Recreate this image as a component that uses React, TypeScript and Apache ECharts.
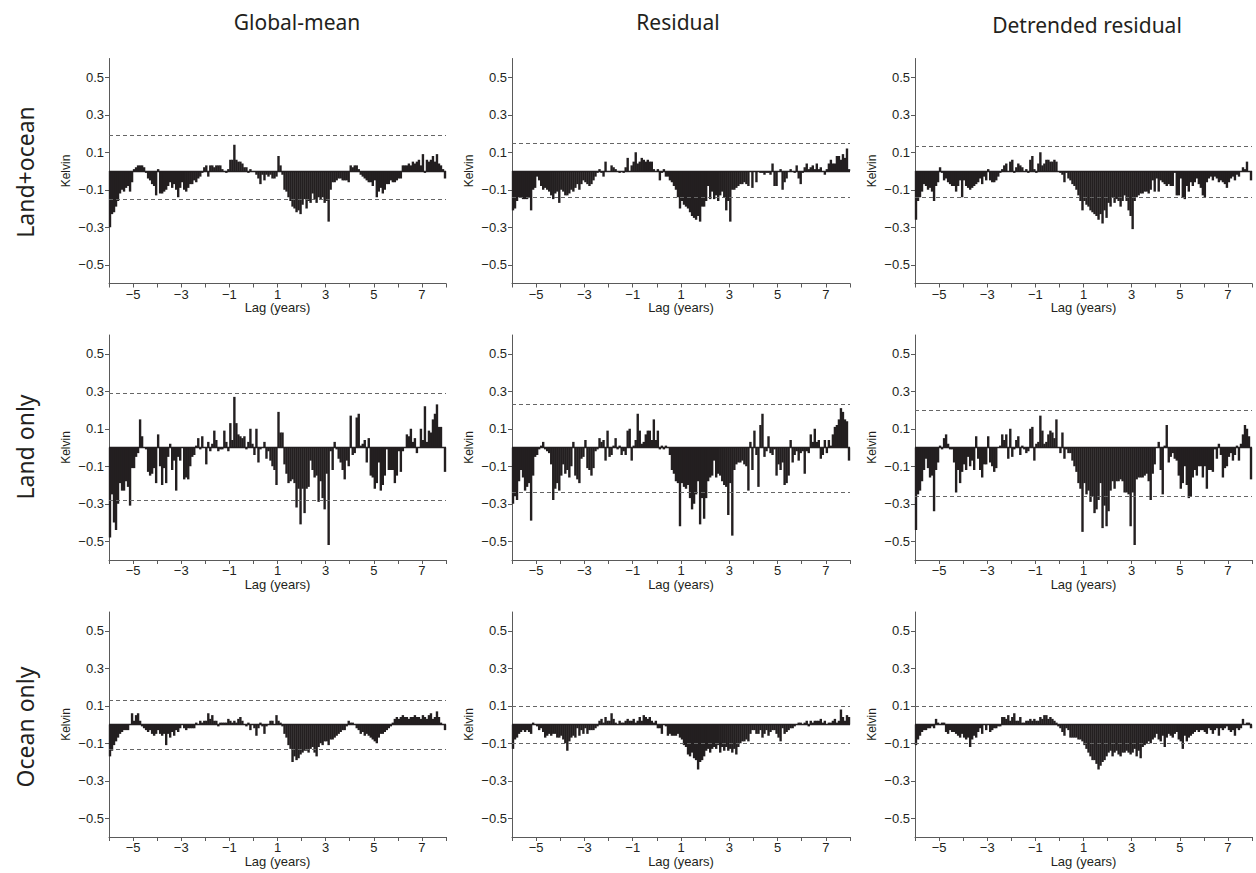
import React, { useEffect, useRef } from "react";
import * as echarts from "echarts";

// ---- labels ----
const COLUMN_TITLES = ["Global-mean", "Residual", "Detrended residual"];
const ROW_TITLES = ["Land+ocean", "Land only", "Ocean only"];
const X_TICKS = [-6, -5, -4, -3, -2, -1, 0, 1, 2, 3, 4, 5, 6, 7, 8];
const X_LABELS = [-5, -3, -1, 1, 3, 5, 7];
const Y_LABELS = [-0.5, -0.3, -0.1, 0.1, 0.3, 0.5];
const LAG_START = -6;
const MONTHS_PER_YEAR = 12;

// ---- monthly regression values, hundredths of kelvin, lag -6 .. +8 years ----
const landOceanGlobal = [
  -30, -23, -22, -19, -16, -12, -10, -11, -9, -8, -11, -6,
  1, 2, 3, 3, 3, 2, -1, -4, -5, -7, -8, -13,
  1, -12, -12, -11, -10, -8, -6, -9, -7, -10, -14, -9,
  -6, -10, -11, -9, -7, -7, -5, -6, -4, -3, -1, 2,
  3, -3, 3, 3, 2, 3, 3, 3, 1, 0, -1, 1,
  6, 6, 14, 6, 5, 5, 4, 2, 2, -1, 1, 0,
  0, -2, -4, -7, -2, -5, -2, -3, -2, -4, -4, -3,
  8, 3, -2, -10, -11, -14, -16, -19, -20, -22, -21, -23,
  -18, -15, -20, -16, -17, -12, -15, -17, -14, -15, -14, -17,
  -16, -27, -10, -6, -6, -5, -4, -4, -5, -5, -5, -6,
  3, 2, 3, 3, 1, -2, -3, -4, -5, -6, -6, -8,
  -5, -14, -11, -9, -12, -10, -7, -7, -5, -6, -6, -5,
  -4, -4, 3, 3, 3, 4, 3, 5, 4, 5, 6, 3,
  9, -1, 6, 5, 6, 8, 5, 9, 4, 3, 1, -4,
];
const landOceanResidual = [
  -21, -20, -16, -14, -14, -15, -15, -15, -14, -21, -10, -9,
  -3, -5, -8, -10, -9, -10, -11, -13, -15, -12, -11, -17,
  -10, -11, -13, -13, -12, -10, -11, -9, -7, -10, -7, -5,
  -6, -7, -8, -7, -5, -3, -1, 1, -1, -3, 5, 0,
  0, 3, 2, 1, 0, -1, 0, -1, 2, 7, 0, 3,
  5, 10, 4, 5, 7, 6, 5, 6, 5, 5, 1, 0,
  1, -5, -1, 1, -3, -3, -5, -6, -8, -10, -14, -20,
  -16, -18, -19, -20, -22, -24, -25, -26, -24, -27, -19, -19,
  -16, -8, -15, -11, -15, -13, -16, -13, -11, -14, -21, -16,
  -27, -10, -10, -9, -8, -7, -7, -6, -7, -8, 0, -9,
  0, -6, 0, -1, -1, -2, -1, -1, -2, 4, -8, -8,
  0, 1, -10, -6, -4, 0, 1, 0, -1, 3, -4, -7,
  -1, 2, 4, 1, 2, 3, 1, 4, 1, 2, 0, -2,
  1, 4, 6, 4, 4, 8, 8, 6, 9, 7, 12, 1,
];
const landOceanDetrended = [
  -26, -16, -14, -11, -7, -8, -10, -9, -11, -16, -8, -6,
  2, -1, -5, -4, -6, -7, -8, -8, -11, -8, -5, -14,
  -5, -8, -9, -10, -9, -8, -7, -6, -4, -7, -3, -5,
  1, -5, -6, -6, -5, -3, -1, 1, 3, 4, 0, 5,
  6, -1, 2, 4, 3, 2, 0, 1, -1, 6, 8, 1,
  -1, 4, 10, 3, 4, 6, 6, 5, 5, 6, 5, 0,
  -1, -2, -6, -1, -4, -5, -7, -8, -10, -13, -16, -21,
  -16, -18, -19, -21, -22, -23, -24, -26, -23, -28, -21, -25,
  -17, -19, -14, -17, -15, -16, -19, -16, -13, -16, -21, -24,
  -31, -16, -14, -13, -12, -12, -11, -11, -12, -10, -5, -11,
  -4, -11, -5, -6, -7, -8, -7, -8, -8, -1, -13, -13,
  -4, -14, -15, -8, -11, -6, -8, -6, -4, -7, -9, -13,
  -14, -6, -4, -3, -5, -3, -4, -6, -5, -6, -7, -9,
  -6, -4, -3, -5, -2, -3, 0, 2, 1, 5, 0, -5,
];
const landGlobal = [
  -48, -25, -40, -44, -30, -19, -23, -23, -18, -21, -31, -11,
  -11, -5, -3, 15, 6, 0, -1, -13, -15, -14, -11, -19,
  7, -10, -20, -11, -19, -5, 2, -12, -7, -23, -5, -7,
  0, -17, -16, -17, -10, -5, -4, 1, 5, -1, 6, 0,
  -9, 3, -2, 2, 9, 4, -2, -1, -1, 9, 3, -2,
  13, 4, 27, 13, 7, 6, 5, 6, -1, 3, 10, 2,
  -4, 10, -8, -1, 0, 3, -6, -2, -7, -10, -12, -20,
  19, 8, 8, -9, -14, -19, -18, -17, -19, -32, -22, -41,
  -22, -35, -22, -21, -7, -12, -16, -15, -29, -18, -27, -33,
  -14, -52, -2, -12, 3, -1, -6, -8, -12, -17, -7, -10,
  17, -4, -3, 16, 18, 1, 2, 4, -8, 5, -15, -16,
  -22, -19, -8, -23, -20, -15, -1, -12, -12, -12, -19, -15,
  -2, -13, -2, 0, 7, 6, 10, 3, 5, -3, 0, 10,
  4, 22, 3, 9, 8, 15, 18, 23, 11, 11, 0, -13,
];
const landResidual = [
  -30, -26, -28, -18, -12, -16, -23, -21, -19, -39, -15, -5,
  -4, -1, 1, 3, -1, -2, -3, -9, -28, -22, -19, -23,
  -15, -9, -14, -12, -16, -10, 3, -15, -17, -19, -6, -5,
  4, -11, -12, -15, -11, -2, -1, 5, 3, 4, -7, 9,
  -5, -4, 1, 5, -1, 1, -4, -2, -4, 9, 10, -7,
  1, 4, 18, 9, 2, 3, 7, 9, 9, 4, 15, 4,
  9, -1, 1, -1, 1, 0, -4, -12, -14, -18, -19, -42,
  -19, -21, -22, -20, -27, -33, -30, -25, -18, -41, -27, -38,
  -27, -18, -16, -15, -7, -16, -14, -15, -18, -20, -21, -36,
  -19, -47, -12, -9, -8, -8, -7, -9, -10, -23, 3, -12,
  9, -4, -21, 12, 18, -5, -2, 6, -3, -4, -1, -15,
  -9, -12, -8, -20, -19, -15, 4, -8, -4, -2, -7, -3,
  -2, -14, -2, -3, 7, 3, 10, 3, 4, -6, -4, 4,
  -3, 4, 1, 7, 11, 12, 15, 21, 19, 15, 14, -7,
];
const landDetrended = [
  -44, -25, -23, -18, -12, -6, -11, -16, -15, -34, -12, -8,
  1, -1, 5, 7, 2, -1, -1, -8, -24, -12, -19, -13,
  -9, -12, -5, -10, -7, -12, 6, -6, -12, -16, -9, -9,
  6, -8, -10, -13, -11, 0, 1, 7, 4, 7, -6, 10,
  -5, -1, 4, 6, -4, 1, -1, -3, -2, 10, 11, -7,
  2, 3, 17, 9, 2, 3, 7, 9, 8, 5, 15, 0,
  -3, 8, -6, -1, -3, -3, -7, -10, -13, -19, -22, -45,
  -19, -25, -23, -29, -26, -35, -33, -28, -19, -43, -31, -42,
  -34, -23, -18, -22, -18, -18, -17, -18, -24, -24, -25, -42,
  -24, -52, -17, -16, -16, -16, -15, -14, -18, -28, -14, -9,
  0, 3, -12, -25, 1, 12, -8, -5, -3, -6, -7, -15,
  -22, -19, -10, -20, -27, -26, -16, -12, -15, -10, -10, -16,
  -10, -22, -12, -12, -13, -1, -6, 2, -4, -16, -11, -10,
  -5, -3, -7, -4, 1, -7, 2, 7, 12, 10, 6, -17,
];
const oceanGlobal = [
  -17, -14, -11, -9, -7, -5, -4, -3, -3, -3, 0, 6,
  2, 5, 6, 2, -1, -2, -3, -4, -3, -5, -6, -5,
  -3, -5, -6, -5, -11, -5, -7, -4, -6, -3, -4, -2,
  0, -2, -3, -2, -2, -2, -2, 1, 0, 2, 1, 2,
  2, 6, 3, 5, 2, 2, -1, 1, 1, 1, 1, 3,
  2, 1, 2, 1, 3, 4, 2, 0, -1, 1, -3, 0,
  -2, -6, -2, 1, -1, -5, -1, 0, 2, 2, 0, 5,
  2, 1, -1, -5, -7, -11, -13, -20, -17, -19, -18, -16,
  -15, -14, -14, -15, -13, -12, -15, -17, -12, -10, -11, -9,
  -9, -11, -8, -8, -7, -6, -5, -4, -3, -3, -1, 2,
  1, 1, 0, -2, -3, -5, -4, -6, -5, -6, -7, -8,
  -9, -10, -7, -5, -5, -4, -3, -2, -1, 1, 3, 4,
  3, 4, 5, 4, 4, 3, 4, 4, 5, 4, 4, 3,
  5, 4, 3, 5, 6, 3, 4, 7, 4, 1, 0, -3,
];
const oceanResidual = [
  -13, -8, -7, -5, -4, -3, -4, -3, -4, -5, 1, 0,
  -1, -3, -2, -4, -7, -6, -5, -6, -5, -5, -7, -7,
  -6, -8, -10, -14, -9, -7, -6, -7, -2, -6, -3, -5,
  -2, -5, -3, -3, -3, -2, -1, 2, 3, 1, 4, 2,
  2, 6, 3, 1, 0, 2, 1, 1, 2, 3, 2, 2,
  3, 1, 2, 4, 2, 5, 4, 3, 4, 2, 1, 2,
  -2, -2, -5, 0, -1, -6, -5, -6, -6, -6, -5, -7,
  -8, -11, -12, -16, -17, -15, -18, -19, -24, -20, -19, -17,
  -14, -13, -15, -13, -12, -13, -11, -15, -12, -14, -12, -14,
  -13, -15, -13, -16, -12, -10, -9, -9, -8, -9, -5, -3,
  -3, -5, -5, -3, -7, -5, -3, -6, -4, -3, -3, -5,
  -7, -9, -2, -5, -4, -3, -2, -2, -1, 0, 1, 1,
  0, 1, 2, -1, 2, 1, 2, 2, 2, 3, 1, 2,
  0, 1, 1, 2, 3, 1, 2, 8, 4, 2, 5, 4,
];
const oceanDetrended = [
  -11, -8, -6, -4, -3, -3, -2, -2, -1, -2, 3, 1,
  0, 1, 1, -4, -5, -3, -4, -4, -5, -6, -7, -5,
  -7, -8, -7, -12, -8, -6, -7, -4, -2, -5, 0, -3,
  0, -4, -3, -2, -2, -1, -1, 4, 4, 3, 5, 2,
  4, 6, 2, 2, 4, 1, 1, 2, 2, 3, 2, 3,
  2, 2, 4, 3, 5, 5, 3, 4, 3, 2, 1, -1,
  -2, -4, -6, -2, -3, -7, -7, -7, -7, -8, -8, -9,
  -11, -13, -15, -17, -19, -19, -21, -24, -22, -20, -19, -17,
  -15, -14, -17, -15, -14, -16, -17, -15, -15, -14, -15, -16,
  -15, -13, -17, -14, -18, -12, -11, -10, -9, -10, -8, -7,
  -5, -8, -9, -6, -12, -7, -5, -6, -7, -5, -4, -8,
  -9, -13, -6, -9, -7, -6, -5, -4, -3, -4, -3, -3,
  -4, -5, -2, -3, -5, -3, -2, -6, -2, -3, -2, -1,
  -3, -4, -3, -6, -2, -3, -2, 3, 0, 1, 1, -2,
];

// significance thresholds (hundredths of kelvin), panel order row by row
const upperThresholds = [19, 15.5, 12.5, 29, 23.5, 20.5, 13, 10.5, 9.5];
const lowerThresholds = [-15.5, -13.5, -14.5, -27.5, -24, -25.5, -13, -9.5, -10];

const PANELS = [
  landOceanGlobal, landOceanResidual, landOceanDetrended,
  landGlobal, landResidual, landDetrended,
  oceanGlobal, oceanResidual, oceanDetrended,
];

const INK = "#231f20";
const AXIS = "#5a5a5a";
const TICK_FONT = "'Liberation Sans', Arial, sans-serif";
const TITLE_FONT = "'Noto Sans', 'Open Sans', sans-serif";

const fmtMinus = (v: number, digits: number) => {
  const s = Math.abs(v).toFixed(digits);
  return v < 0 ? "\u2212" + s : s;
};

export default function App() {
  const ref = useRef<HTMLDivElement>(null);

  useEffect(() => {
    if (!ref.current) return;
    const chart = echarts.init(ref.current, undefined, { renderer: "svg" });

    const colLeft = [109, 512, 915];
    const colWidth = [337, 338, 337];
    const rowTop = [58.5, 335, 612];
    const rowHeight = 225;

    const grids: any[] = [];
    const xAxes: any[] = [];
    const yAxes: any[] = [];
    const series: any[] = [];

    PANELS.forEach((vals, i) => {
      const r = Math.floor(i / 3);
      const c = i % 3;
      grids.push({
        left: colLeft[c],
        top: rowTop[r],
        width: colWidth[c],
        height: rowHeight,
        containLabel: false,
      });
      xAxes.push({
        type: "value",
        gridIndex: i,
        min: LAG_START,
        max: 8,
        interval: 1,
        name: "Lag (years)",
        nameLocation: "middle",
        nameGap: 17,
        nameTextStyle: { fontFamily: TICK_FONT, fontSize: 13, color: INK },
        axisLine: { show: true, onZero: false, lineStyle: { color: AXIS, width: 1 } },
        axisTick: { show: true, length: 4, customValues: X_TICKS, lineStyle: { color: AXIS } },
        axisLabel: {
          customValues: X_LABELS,
          margin: 4,
          fontFamily: TICK_FONT,
          fontSize: 13,
          color: INK,
          formatter: (v: number) => fmtMinus(v, 0),
        },
        splitLine: { show: false },
      });
      yAxes.push({
        type: "value",
        gridIndex: i,
        min: -0.6,
        max: 0.6,
        name: "Kelvin",
        nameLocation: "middle",
        nameGap: 37,
        nameTextStyle: { fontFamily: TICK_FONT, fontSize: 12, color: INK },
        axisLine: { show: true, onZero: false, lineStyle: { color: AXIS, width: 1 } },
        axisTick: { show: true, length: 4, customValues: Y_LABELS, lineStyle: { color: AXIS } },
        axisLabel: {
          customValues: Y_LABELS,
          margin: 5,
          fontFamily: TICK_FONT,
          fontSize: 13,
          color: INK,
          formatter: (v: number) => fmtMinus(v, 1),
        },
        splitLine: { show: false },
      });
      series.push({
        type: "bar",
        xAxisIndex: i,
        yAxisIndex: i,
        barWidth: 2.4,
        data: vals.map((v, k) => [LAG_START + (k + 0.5) / MONTHS_PER_YEAR, v / 100]),
        itemStyle: { color: INK },
        silent: true,
        markLine: {
          silent: true,
          symbol: "none",
          label: { show: false },
          data: [
            { yAxis: 0, lineStyle: { color: INK, type: "solid", width: 1.3 } },
            { yAxis: upperThresholds[i] / 100, lineStyle: { color: "#666", type: [4, 3], width: 1 } },
            { yAxis: lowerThresholds[i] / 100, lineStyle: { color: "#666", type: [4, 3], width: 1 } },
          ],
        },
      });
    });

    const titleX = [297, 678, 1087];
    const titleY = [22, 22, 25];
    const rowY = [172, 447, 727];
    const graphics: any[] = [];
    COLUMN_TITLES.forEach((t, c) => {
      graphics.push({
        type: "text",
        x: titleX[c],
        y: titleY[c],
        style: {
          text: t,
          fontFamily: TITLE_FONT,
          fontSize: 21,
          fill: INK,
          textAlign: "center",
          textVerticalAlign: "middle",
        },
      });
    });
    ROW_TITLES.forEach((t, r) => {
      graphics.push({
        type: "text",
        x: 25,
        y: rowY[r],
        rotation: Math.PI / 2,
        style: {
          text: t,
          fontFamily: TITLE_FONT,
          fontSize: 23,
          fill: INK,
          textAlign: "center",
          textVerticalAlign: "middle",
        },
      });
    });

    chart.setOption({
      animation: false,
      backgroundColor: "#ffffff",
      grid: grids,
      xAxis: xAxes,
      yAxis: yAxes,
      series,
      graphic: graphics,
    });

    return () => chart.dispose();
  }, []);

  return (
    <div
      ref={ref}
      style={{ position: "fixed", left: 0, top: 0, width: 1256, height: 873, background: "#fff" }}
    />
  );
}
